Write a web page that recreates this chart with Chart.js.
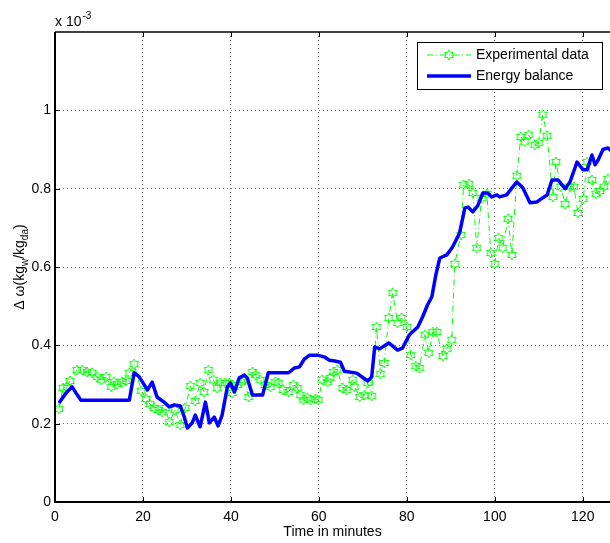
<!DOCTYPE html>
<html>
<head>
<meta charset="utf-8">
<script src="https://cdn.jsdelivr.net/npm/chart.js@4.4.1/dist/chart.umd.min.js"></script>
<style>
  html, body { margin: 0; padding: 0; background: #fff; }
  #wrap { width: 610px; height: 543px; }
</style>
</head>
<body>
<div id="wrap"><canvas id="humidityChart" width="610" height="543"></canvas></div>
<script>
// humidity ratio difference, in units of 1e-3 kg_w/kg_da
const expTime = [0.9, 1.8, 2.7, 3.4, 5.0, 6.2, 7.3, 8.4, 9.6, 10.5,
  11.6, 12.8, 13.4, 14.1, 15.3, 16.2, 16.9, 18.0, 19.6, 20.7,
  21.6, 22.6, 23.5, 24.4, 25.1, 26.0, 27.3, 28.5, 29.6, 30.8,
  31.9, 33.0, 33.9, 34.9, 36.0, 36.9, 37.6, 38.7, 39.6, 40.3,
  41.5, 42.4, 43.1, 44.0, 44.9, 45.6, 46.7, 47.8, 49.0, 50.1,
  50.8, 51.9, 53.1, 54.2, 55.1, 55.8, 56.5, 57.4, 58.1, 59.2,
  59.9, 60.8, 62.0, 62.6, 63.3, 64.2, 65.4, 66.3, 67.7, 68.1,
  69.3, 70.4, 71.1, 72.0, 73.1, 74.0, 74.9, 75.9, 76.8, 77.9,
  78.8, 80.0, 80.9, 82.0, 82.9, 84.1, 85.0, 85.9, 86.8, 88.2,
  89.1, 90.2, 90.9, 92.3, 92.9, 94.1, 95.0, 95.9, 97.0, 98.2,
  99.1, 100.0, 100.9, 101.8, 103.0, 103.9, 105.0, 105.9, 106.8, 107.7,
  109.1, 110.0, 110.9, 111.9, 113.2, 113.9, 115.0, 116.0, 117.1, 118.0,
  118.9, 120.1, 121.0, 122.1, 123.0, 123.9, 124.8, 125.7];
const expDelta = [0.238, 0.291, 0.294, 0.309, 0.337, 0.337, 0.332, 0.330, 0.319, 0.312,
  0.319, 0.294, 0.307, 0.301, 0.307, 0.309, 0.330, 0.352, 0.284, 0.263,
  0.250, 0.240, 0.235, 0.230, 0.240, 0.204, 0.235, 0.197, 0.240, 0.296,
  0.258, 0.304, 0.281, 0.337, 0.312, 0.291, 0.304, 0.304, 0.304, 0.278,
  0.299, 0.307, 0.312, 0.268, 0.332, 0.324, 0.312, 0.299, 0.294, 0.307,
  0.304, 0.286, 0.281, 0.299, 0.291, 0.273, 0.261, 0.266, 0.261, 0.263,
  0.261, 0.312, 0.307, 0.317, 0.332, 0.337, 0.291, 0.286, 0.312, 0.294,
  0.268, 0.273, 0.304, 0.271, 0.447, 0.327, 0.355, 0.470, 0.534, 0.457,
  0.470, 0.447, 0.375, 0.347, 0.342, 0.427, 0.381, 0.434, 0.434, 0.373,
  0.391, 0.414, 0.608, 0.682, 0.810, 0.812, 0.789, 0.649, 0.776, 0.787,
  0.636, 0.608, 0.674, 0.649, 0.723, 0.631, 0.833, 0.932, 0.920, 0.937,
  0.912, 0.917, 0.989, 0.935, 0.779, 0.868, 0.805, 0.761, 0.805, 0.805,
  0.738, 0.774, 0.868, 0.822, 0.787, 0.794, 0.805, 0.825];

const balTime = [0.9, 2.5, 3.9, 4.8, 5.9, 16.9, 18.0, 19.1, 20.3, 21.0,
  22.1, 23.2, 24.8, 26.0, 27.1, 28.5, 29.4, 30.1, 31.2, 31.9,
  33.0, 34.2, 35.1, 36.2, 37.1, 38.0, 39.2, 39.9, 40.8, 41.9,
  43.1, 43.7, 44.9, 47.2, 48.5, 53.1, 54.4, 55.6, 56.7, 57.9,
  59.7, 61.3, 62.4, 63.6, 64.9, 65.8, 68.6, 71.1, 72.0, 72.7,
  73.8, 75.9, 77.9, 79.0, 80.6, 82.5, 83.6, 84.7, 85.7, 86.6,
  87.5, 89.1, 90.4, 92.0, 93.2, 93.9, 95.0, 96.1, 97.3, 98.4,
  99.3, 100.5, 101.1, 102.7, 103.9, 105.0, 106.4, 108.0, 109.6, 110.3,
  111.9, 113.0, 114.4, 116.0, 117.1, 118.7, 120.1, 121.0, 122.1, 122.8,
  123.5, 124.6, 125.7, 126.7];
const balDelta = [0.253, 0.278, 0.294, 0.278, 0.260, 0.260, 0.330, 0.320, 0.299, 0.286,
  0.306, 0.268, 0.255, 0.243, 0.248, 0.245, 0.217, 0.189, 0.202, 0.222,
  0.192, 0.255, 0.202, 0.217, 0.194, 0.222, 0.294, 0.304, 0.281, 0.317,
  0.324, 0.317, 0.273, 0.273, 0.330, 0.330, 0.342, 0.345, 0.365, 0.375,
  0.375, 0.370, 0.362, 0.360, 0.357, 0.334, 0.329, 0.309, 0.319, 0.396,
  0.391, 0.406, 0.388, 0.393, 0.427, 0.447, 0.473, 0.503, 0.524, 0.580,
  0.623, 0.631, 0.651, 0.687, 0.751, 0.753, 0.741, 0.756, 0.789, 0.789,
  0.779, 0.784, 0.779, 0.784, 0.802, 0.817, 0.802, 0.764, 0.766, 0.772,
  0.784, 0.822, 0.822, 0.800, 0.817, 0.868, 0.848, 0.848, 0.886, 0.861,
  0.873, 0.900, 0.904, 0.895];

const xTicks = [0, 20, 40, 60, 80, 100, 120];
const yTicks = [0, 0.2, 0.4, 0.6, 0.8, 1];
const yTickLabels = ["0", "0.2", "0.4", "0.6", "0.8", "1"];
const seriesNames = ["Experimental data", "Energy balance"];

const FONT = "Liberation Sans, Arial, Helvetica, sans-serif";

// six-pointed star marker, like matlab 'h'
function hexagram(color) {
  const c = document.createElement("canvas");
  c.width = 12;
  c.height = 12;
  const g = c.getContext("2d");
  g.strokeStyle = color;
  g.lineWidth = 1;
  g.beginPath();
  for (let i = 0; i < 12; i++) {
    const r = i % 2 === 0 ? 5 : 2.9;
    const a = -Math.PI / 2 + i * Math.PI / 6;
    const px = 6 + r * Math.cos(a), py = 6 + r * Math.sin(a);
    if (i === 0) g.moveTo(px, py); else g.lineTo(px, py);
  }
  g.closePath();
  g.stroke();
  return c;
}
const starMarker = hexagram("#00ff00");

// frame, inward ticks, exponent, y label and legend box
const matlabAxes = {
  id: "matlabAxes",
  afterDraw(chart) {
    const { ctx, chartArea: a } = chart;
    const xs = chart.scales.x, ys = chart.scales.y;
    ctx.save();
    ctx.strokeStyle = "#000";
    ctx.lineWidth = 1;
    xTicks.forEach(v => {
      const px = Math.round(xs.getPixelForValue(v)) + 0.5;
      ctx.beginPath();
      ctx.moveTo(px, a.bottom); ctx.lineTo(px, a.bottom - 5);
      ctx.moveTo(px, a.top); ctx.lineTo(px, a.top + 5);
      ctx.stroke();
    });
    yTicks.forEach(v => {
      const py = Math.round(ys.getPixelForValue(v)) + 0.5;
      ctx.beginPath();
      ctx.moveTo(a.left, py); ctx.lineTo(a.left + 5, py);
      ctx.stroke();
    });
    ctx.lineWidth = 2;
    ctx.beginPath();
    ctx.moveTo(a.right, a.bottom); ctx.lineTo(a.left, a.bottom); ctx.lineTo(a.left, a.top);
    ctx.stroke();
    ctx.lineWidth = 1.5;
    ctx.beginPath();
    ctx.moveTo(a.left, a.top); ctx.lineTo(a.right, a.top);
    ctx.stroke();

    // x 10^-3
    ctx.fillStyle = "#000";
    ctx.textBaseline = "alphabetic";
    ctx.textAlign = "left";
    ctx.font = "14px " + FONT;
    ctx.fillText("x 10", a.left, a.top - 6);
    const w = ctx.measureText("x 10").width;
    ctx.font = "10px " + FONT;
    ctx.fillText("-3", a.left + w + 1, a.top - 13);

    // y axis title with subscripts
    const parts = [["\u0394 \u03c9(kg", 0], ["w", 1], ["/kg", 0], ["da", 1], [")", 0]];
    const sizeOf = p => p[1] ? 10 : 14;
    let total = 0;
    parts.forEach(p => { ctx.font = sizeOf(p) + "px " + FONT; total += ctx.measureText(p[0]).width; });
    ctx.translate(24, (a.top + a.bottom) / 2);
    ctx.rotate(-Math.PI / 2);
    let cx = -total / 2;
    parts.forEach(p => {
      ctx.font = sizeOf(p) + "px " + FONT;
      ctx.fillText(p[0], cx, p[1] ? 4 : 0);
      cx += ctx.measureText(p[0]).width;
    });
    ctx.restore();

    // legend
    const lx = 417.5, ly = 42.5, lw = 185, lh = 47;
    ctx.save();
    ctx.fillStyle = "#fff";
    ctx.fillRect(lx, ly, lw, lh);
    ctx.strokeStyle = "#000";
    ctx.lineWidth = 1;
    ctx.strokeRect(lx, ly, lw, lh);
    const rows = [55, 76];
    chart.data.datasets.forEach((ds, i) => {
      const y = rows[i];
      ctx.strokeStyle = ds.borderColor;
      ctx.lineWidth = ds.borderWidth;
      ctx.setLineDash(ds.borderDash || []);
      ctx.beginPath();
      ctx.moveTo(427, y); ctx.lineTo(471, y);
      ctx.stroke();
      ctx.setLineDash([]);
      if (ds.pointStyle instanceof HTMLCanvasElement) {
        ctx.drawImage(ds.pointStyle, 449 - 6, y - 6);
      }
      ctx.fillStyle = "#000";
      ctx.font = "14px " + FONT;
      ctx.textBaseline = "middle";
      ctx.fillText(ds.label, 476, y);
    });
    ctx.restore();
  }
};

new Chart(document.getElementById("humidityChart"), {
  type: "line",
  data: {
    datasets: [
      {
        label: seriesNames[0],
        data: expTime.map((t, i) => ({ x: t, y: expDelta[i] })),
        borderColor: "#00ff00",
        borderWidth: 1,
        borderDash: [6, 3, 1, 3],
        pointStyle: starMarker,
        pointRadius: 5,
        tension: 0,
        order: 2
      },
      {
        label: seriesNames[1],
        data: balTime.map((t, i) => ({ x: t, y: balDelta[i] })),
        borderColor: "#0000ff",
        borderWidth: 3.5,
        pointRadius: 0,
        tension: 0,
        borderJoinStyle: "round",
        order: 1
      }
    ]
  },
  options: {
    responsive: false,
    animation: false,
    devicePixelRatio: 1,
    layout: { autoPadding: false, padding: { top: 32, right: 0, left: 0, bottom: 0 } },
    plugins: { legend: { display: false }, tooltip: { enabled: false } },
    scales: {
      x: {
        type: "linear",
        min: 0,
        max: 126.2,
        afterBuildTicks: s => { s.ticks = xTicks.map(v => ({ value: v })); },
        afterFit: s => { s.height = 41; s.paddingLeft = 0; s.paddingRight = 0; },
        ticks: { color: "#000", font: { family: FONT, size: 14 }, padding: 7, maxRotation: 0 },
        grid: { color: "#777", lineWidth: 1, drawTicks: false },
        border: { display: false, dash: [1, 3] },
        title: { display: true, text: "Time in minutes", color: "#000", font: { family: FONT, size: 14 }, padding: { top: 0, bottom: 2 } }
      },
      y: {
        min: 0,
        max: 1.2,
        afterBuildTicks: s => { s.ticks = yTicks.map(v => ({ value: v })); },
        afterFit: s => { s.width = 55; s.paddingTop = 0; s.paddingBottom = 0; },
        ticks: { color: "#000", font: { family: FONT, size: 14 }, padding: 4, callback: (v, i) => yTickLabels[i] },
        grid: { color: "#777", lineWidth: 1, drawTicks: false },
        border: { display: false, dash: [1, 3] }
      }
    }
  },
  plugins: [matlabAxes]
});
</script>
</body>
</html>
